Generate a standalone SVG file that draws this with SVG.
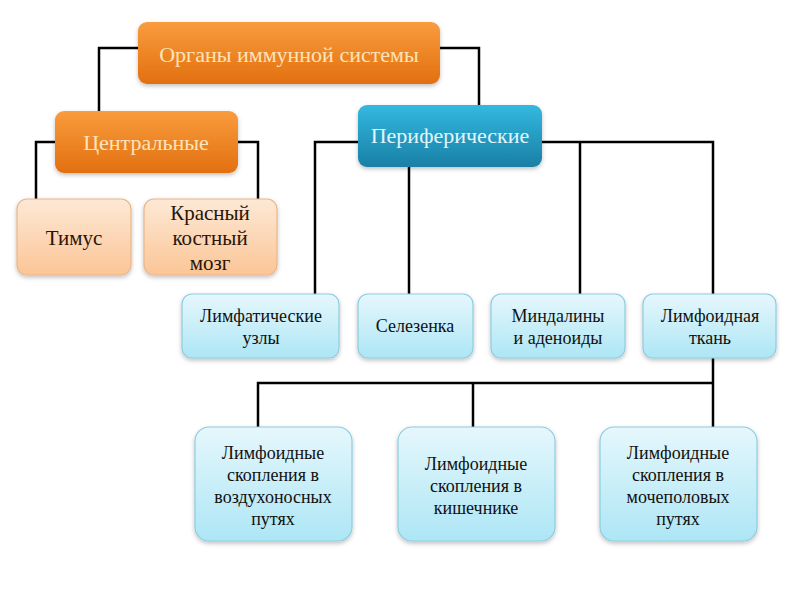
<svg xmlns="http://www.w3.org/2000/svg" width="800" height="602" viewBox="0 0 800 602" font-family="'Liberation Serif', 'DejaVu Serif', serif">
<defs>
<linearGradient id="gOr" x1="0" y1="0" x2="0" y2="1">
<stop offset="0" stop-color="#f99c3e"/><stop offset="1" stop-color="#e2700f"/>
</linearGradient>
<linearGradient id="gBl" x1="0" y1="0" x2="0" y2="1">
<stop offset="0" stop-color="#33b9e0"/><stop offset="1" stop-color="#1a7fa5"/>
</linearGradient>
<linearGradient id="gLo" x1="0" y1="0" x2="0" y2="1">
<stop offset="0" stop-color="#fde9d6"/><stop offset="1" stop-color="#fbc596"/>
</linearGradient>
<linearGradient id="gLb" x1="0" y1="0" x2="0" y2="1">
<stop offset="0" stop-color="#e6f7fc"/><stop offset="1" stop-color="#ade6f5"/>
</linearGradient>
<filter id="sh" x="-10%" y="-10%" width="120%" height="130%">
<feDropShadow dx="0" dy="2" stdDeviation="2" flood-color="#000" flood-opacity="0.25"/>
</filter>
</defs>
<style>
text{font-family:'Liberation Serif','DejaVu Serif',serif;text-anchor:middle}
.or rect{fill:url(#gOr);filter:url(#sh)}
.bl rect{fill:url(#gBl);filter:url(#sh)}
.lo rect{fill:url(#gLo);stroke:#e9b68a;stroke-width:1.2;filter:url(#sh)}
.lb rect{fill:url(#gLb);stroke:#8ccde0;stroke-width:1.2;filter:url(#sh)}
.or text{fill:#fde3ba;font-size:22px}
.bl text{fill:#e2f5fc;font-size:22px}
.lo text{fill:#2a1408;font-size:21px}
.lb text{fill:#111;font-size:18px}
#conn path{fill:none;stroke:#000;stroke-width:2.5}
</style>
<rect width="800" height="602" fill="#fff"/>
<g id="conn">
<path d="M138 48 H99 V111"/>
<path d="M440 48 H479 V105"/>
<path d="M55 142 H36 V199"/>
<path d="M238 142 H258 V199"/>
<path d="M358 142 H315 V294"/>
<path d="M409 167 V294"/>
<path d="M542 142 H713 V294"/>
<path d="M580 142 V294"/>
<path d="M713 358 V427"/>
<path d="M713 383 H258 V427"/>
<path d="M473 383 V427"/>
</g>
<g id="n-root" class="or"><rect x="138" y="22" width="302" height="62" rx="9"/><text x="289" y="62">Органы иммунной системы</text></g>
<g id="n-central" class="or"><rect x="55" y="111" width="183" height="62" rx="9"/><text x="146" y="150">Центральные</text></g>
<g id="n-periph" class="bl"><rect x="358" y="105" width="184" height="62" rx="9"/><text x="450" y="143">Периферические</text></g>
<g id="n-thymus" class="lo"><rect x="17" y="199" width="114" height="76" rx="10"/><text x="74" y="245">Тимус</text></g>
<g id="n-marrow" class="lo"><rect x="144" y="199" width="133" height="76" rx="10"/><text x="210" y="220">Красный</text><text x="210" y="245">костный</text><text x="210" y="270">мозг</text></g>
<g id="n-nodes" class="lb"><rect x="182" y="294" width="157" height="64" rx="10"/><text x="261" y="322">Лимфатические</text><text x="261" y="344">узлы</text></g>
<g id="n-spleen" class="lb"><rect x="358" y="294" width="115" height="64" rx="10"/><text x="415" y="332">Селезенка</text></g>
<g id="n-tonsils" class="lb"><rect x="491" y="294" width="134" height="64" rx="10"/><text x="558" y="322">Миндалины</text><text x="558" y="344">и аденоиды</text></g>
<g id="n-tissue" class="lb"><rect x="643" y="294" width="133" height="64" rx="10"/><text x="710" y="322">Лимфоидная</text><text x="710" y="344">ткань</text></g>
<g id="n-air" class="lb"><rect x="195" y="427" width="157" height="114" rx="14"/><text x="273" y="459">Лимфоидные</text><text x="273" y="481">скопления в</text><text x="273" y="503">воздухоносных</text><text x="273" y="525">путях</text></g>
<g id="n-gut" class="lb"><rect x="398" y="427" width="157" height="114" rx="14"/><text x="476" y="470">Лимфоидные</text><text x="476" y="492">скопления в</text><text x="476" y="514">кишечнике</text></g>
<g id="n-uro" class="lb"><rect x="600" y="427" width="157" height="114" rx="14"/><text x="678" y="459">Лимфоидные</text><text x="678" y="481">скопления в</text><text x="678" y="503">мочеполовых</text><text x="678" y="525">путях</text></g>
</svg>
